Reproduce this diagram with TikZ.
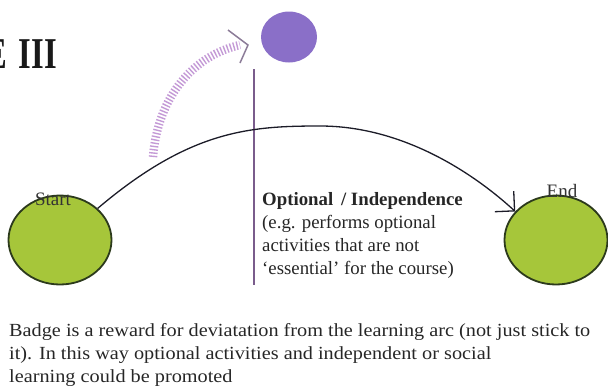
\documentclass[tikz,border=0pt]{standalone}
\usepackage{fontspec}
\setmainfont{Liberation Serif}
\newfontfamily\widefont[FakeStretch=1.095]{Liberation Serif}
\newfontfamily\titlefont[FakeStretch=0.74]{Liberation Serif}
\usetikzlibrary{arrows.meta,shapes.geometric}
\definecolor{limeg}{HTML}{A6C63A}
\definecolor{limeb}{HTML}{2C3A1C}
\definecolor{badge}{HTML}{8A6FC8}
\definecolor{stemc}{HTML}{7A5C8C}
\definecolor{stripe}{HTML}{C49AD6}
\definecolor{chev}{HTML}{8C7C98}
\definecolor{arc}{HTML}{1C1C28}
\tikzset{
  endpoint/.style={ellipse, draw=limeb, line width=1.8pt, fill=limeg, minimum width=103pt, minimum height=89pt, inner sep=0pt},
  lbl/.style={font=\fontsize{19}{20}\selectfont, inner sep=0pt, anchor=base, text=black!80},
  body/.style={align=left, inner sep=0pt, anchor=base west, text=black!85},
  ttl/.style={anchor=base east, inner sep=0pt, font=\titlefont\bfseries\fontsize{44}{44}\selectfont, text=black!90},
}
\begin{document}
\begin{tikzpicture}[x=1pt,y=-1pt]
\useasboundingbox (0,0) rectangle (608,389);
% title
\node[ttl] (titleE) at (7,68) {E};
\node[ttl] (title) at (57,68) {III};
% badge and stem
\node[ellipse, fill=badge, minimum width=56pt, minimum height=51pt, inner sep=0pt] (badge) at (289,37) {};
\coordinate (stemtop) at (254,69);
\coordinate (stembot) at (254,285);
\draw[stemc, line width=1.3pt] (stemtop) -- (stembot);
% striped arrow
\coordinate (sa) at (153,157);
\coordinate (sb) at (240,45);
\draw[stripe, line width=8.5pt, dash pattern=on 1.4pt off 1.9pt] (sa) .. controls (158,95) and (195,55) .. (sb);
\coordinate (ca) at (228,30);
\coordinate (ct) at (248,45);
\coordinate (cb) at (240,63);
\draw[chev, line width=1.5pt, line join=miter] (ca) -- (ct) -- (cb);
% start / end
\node[endpoint] (start) at (60,240) {};
\node[endpoint] (end) at (556,240) {};
\node[lbl] (startl) at (53,205) {Start};
\node[lbl] (endl) at (562,197) {End};
% arc
\draw[arc, line width=1.3pt, -{Straight Barb[length=14pt, width=28pt]}] (start.40) .. controls (190,130) and (250,126) .. (320,126) .. controls (400,126) and (470,170) .. (end.145);
% optional text
\node[body, font=\fontsize{18.8}{23}\selectfont] (opt) at (262,274) {\textbf{Optional\ \,/ Independence}\\(e.g. performs optional\\activities that are not\\`essential' for the course)};
% bottom
\node[body, font=\widefont\fontsize{18.5}{23}\selectfont] (note) at (9,382) {Badge is a reward for deviatation from the learning arc (not just stick to\\it). In this way optional activities and independent or social\\learning could be promoted};
\end{tikzpicture}
\end{document}
